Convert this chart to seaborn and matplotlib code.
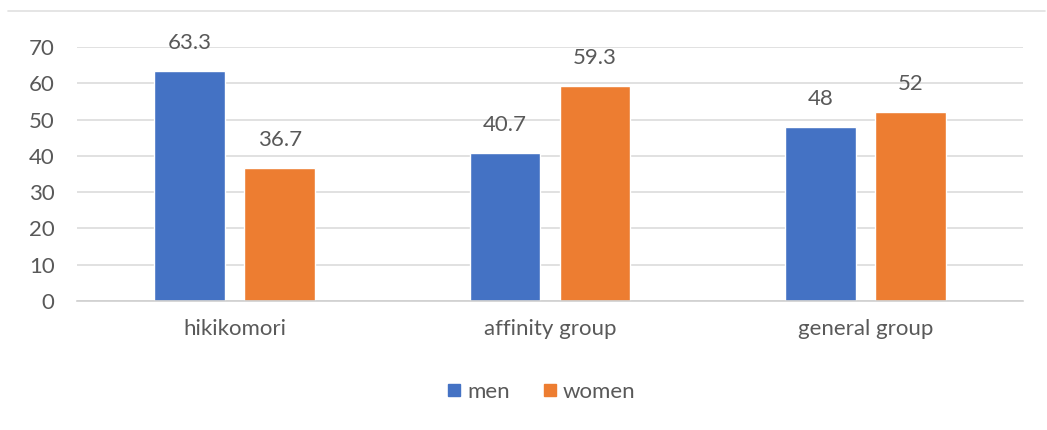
import seaborn as sns
import matplotlib.pyplot as plt
import matplotlib.lines as mlines
import pandas as pd

# valores
grupos = ['hikikomori', 'affinity group', 'general group']
homens = [63.3, 40.7, 48]
mulheres = [36.7, 59.3, 52]
rotulos_sexo = ['men', 'women']
cores = ['#4472C4', '#ED7D31']

df = pd.DataFrame({
    'grupo': grupos * 2,
    'sexo': [rotulos_sexo[0]] * 3 + [rotulos_sexo[1]] * 3,
    'valor': homens + mulheres,
})

sns.set_theme(style='white')
plt.rcParams['font.family'] = ['Lato', 'DejaVu Sans']
cinza = '#595959'
tam = 16

fig = plt.figure(figsize=(10.47, 4.30), dpi=100)
ax = fig.add_axes([0.0735, 0.30, 0.9035, 0.5907])

sns.barplot(data=df, x='grupo', y='valor', hue='sexo', palette=cores,
            width=0.571, gap=0.213, saturation=1, ax=ax, legend=False)

for cont in ax.containers:
    ax.bar_label(cont, labels=[f'{v:g}' for v in cont.datavalues],
                 padding=13, fontsize=tam, color=cinza)

ax.set_ylim(0, 70)
ax.set_xlim(-0.5, 2.5)
ax.set_yticks(range(0, 71, 10))
ax.yaxis.grid(True, color='#dcdcdc', linewidth=1.2)
ax.set_axisbelow(True)
for s in ['top', 'right', 'left']:
    ax.spines[s].set_visible(False)
ax.spines['bottom'].set_color('#d0d0d0')
ax.spines['bottom'].set_linewidth(1.2)
ax.tick_params(axis='y', length=0, pad=16, labelsize=tam, labelcolor=cinza)
ax.tick_params(axis='x', length=0, pad=13, labelsize=tam, labelcolor=cinza)
ax.set_xlabel('')
ax.set_ylabel('')

handles = [mlines.Line2D([], [], marker='s', linestyle='', color=c, markersize=9)
           for c in cores]
fig.legend(handles, rotulos_sexo, loc='center', bbox_to_anchor=(0.516, 0.088),
           ncol=2, frameon=False, fontsize=tam, labelcolor=cinza,
           handletextpad=0.2, columnspacing=1.4, handlelength=0.8)

# linha de borda no topo
fig.add_artist(mlines.Line2D([0.008, 0.998], [0.974, 0.974],
                             color='#e0e0e0', linewidth=1.2))

fig.savefig('out.png', dpi=100)
